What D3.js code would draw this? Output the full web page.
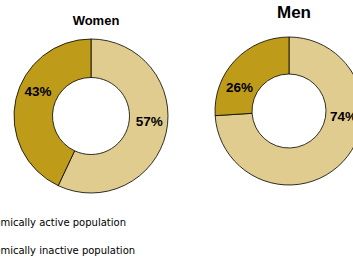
<!DOCTYPE html>
<html>
<head>
<meta charset="utf-8">
<script src="https://cdn.jsdelivr.net/npm/d3@7"></script>
<style>
  body { margin: 0; background: #fff; }
  svg { display: block; font-family: "Liberation Sans", Arial, sans-serif; }
</style>
</head>
<body>
<svg id="chart" width="353" height="257"></svg>
<script>
  'use strict';

  var categories = ["Economically active population", "Economically inactive population"];
  var groups = ["Women", "Men"];
  var women = [57, 43];
  var men = [74, 26];
  var colors = ["#e0cc8e", "#bf9b1a"];

  var svg = d3.select("#chart");

  var pie = d3.pie().sort(null).value(function(d) { return d; });

  // labels sit near the horizontal on each side, like the source chart
  var labelAngle = [Math.PI * 0.53, Math.PI * 1.64];

  // one doughnut per group
  var charts = [
    { title: groups[0], values: women, cx: 91, cy: 116, r: 77, titleY: 25, titleSize: 13, labelR: 0.76 },
    { title: groups[1], values: men, cx: 289, cy: 111, r: 74, titleY: 18, titleSize: 17, labelR: 0.74 }
  ];

  charts.forEach(function(c) {
    var arc = d3.arc().innerRadius(c.r * 0.5).outerRadius(c.r);

    var g = svg.append("g").attr("transform", "translate(" + c.cx + "," + c.cy + ")");

    g.selectAll("path")
      .data(pie(c.values))
      .enter().append("path")
      .attr("d", arc)
      .style("fill", function(d, i) { return colors[i]; })
      .style("stroke", "#000")
      .style("stroke-width", 0.8);

    g.selectAll("text")
      .data(pie(c.values))
      .enter().append("text")
      .attr("x", function(d, i) { return Math.sin(labelAngle[i]) * c.r * c.labelR; })
      .attr("y", function(d, i) { return -Math.cos(labelAngle[i]) * c.r * c.labelR; })
      .attr("text-anchor", "middle")
      .attr("dy", "0.35em")
      .style("font-size", "13.5px")
      .style("font-weight", "bold")
      .text(function(d) { return d.data + "%"; });

    svg.append("text")
      .attr("x", c.cx + 5)
      .attr("y", c.titleY)
      .attr("text-anchor", "middle")
      .style("font-size", c.titleSize + "px")
      .style("font-weight", "bold")
      .text(c.title);
  });

  // legend (cut off at the left edge, as in the source)
  var legend = svg.append("g").attr("transform", "translate(-30,226)");
  var item = legend.selectAll("g")
    .data(categories)
    .enter().append("g")
    .attr("transform", function(d, i) { return "translate(0," + (i * 28) + ")"; });

  item.append("rect")
    .attr("x", -16).attr("y", -8)
    .attr("width", 9).attr("height", 9)
    .style("fill", function(d, i) { return colors[i]; })
    .style("stroke", "#000")
    .style("stroke-width", 0.8);

  item.append("text")
    .style("font-family", "'DejaVu Sans', sans-serif")
    .style("font-size", "10px")
    .text(function(d) { return d; });
</script>
</body>
</html>
